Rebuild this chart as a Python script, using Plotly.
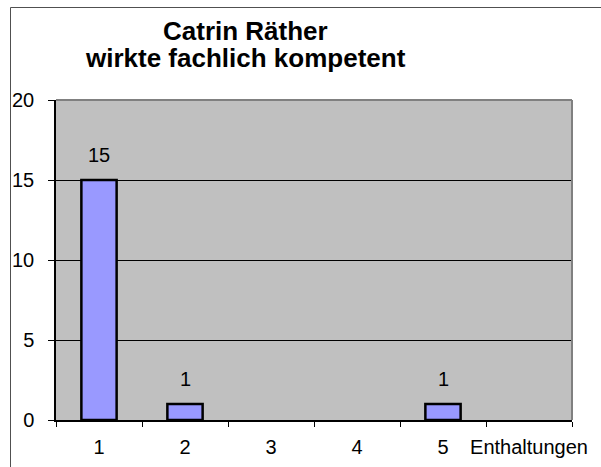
import plotly.graph_objects as go

# data
categories = ["1", "2", "3", "4", "5", "Enthaltungen"]
votes = [15, 1, 0, 0, 1, 0]
y_ticks = [0, 5, 10, 15, 20]
title_lines = ["Catrin Räther", "wirkte fachlich kompetent"]

BAR = "#9999FF"
PLOT_BG = "#C0C0C0"
FRAME = "#808080"
FONT = "Liberation Sans, Arial, sans-serif"

W, H = 601, 467
L, R, T, B = 56, 29, 100, 47
pw, ph = W - L - R, H - T - B


def px_x(x):
    return (x - L) / pw


def px_y(y):
    return (H - B - y) / ph


fig = go.Figure(go.Bar(
    x=categories,
    y=[v if v else None for v in votes],  # empty categories draw nothing
    width=0.41,
    marker=dict(color=BAR, line=dict(color="black", width=2.5)),
    hoverinfo="x+y",
))

# value labels above non-zero bars (category index as x)
for i, v in enumerate(votes):
    if v:
        fig.add_annotation(x=i, y=v, text=str(v), showarrow=False,
                           yanchor="middle", yshift=25,
                           font=dict(size=20, color="black"))

# two-line bold title, tight line spacing like the original
for text, cy in zip(title_lines, [31, 58]):
    fig.add_annotation(xref="paper", yref="paper", x=px_x(245), y=px_y(cy),
                       xanchor="center", yanchor="middle", showarrow=False,
                       text=f"<b>{text}</b>",
                       font=dict(size=26, family=FONT, color="black"))

# grey top/right frame of the plot area
fig.add_shape(type="line", xref="paper", yref="paper", x0=0, x1=1, y0=1, y1=1,
              line=dict(color=FRAME, width=2), layer="above")
fig.add_shape(type="line", xref="paper", yref="paper", x0=1, x1=1, y0=0, y1=1,
              line=dict(color=FRAME, width=2), layer="above")

# outer chart border (runs off the right/bottom edge)
fig.add_shape(type="rect", xref="paper", yref="paper",
              x0=px_x(10.5), x1=px_x(610), y0=px_y(475), y1=px_y(7.5),
              line=dict(color="#505050", width=1), layer="below")

fig.update_layout(
    width=W, height=H,
    paper_bgcolor="white",
    plot_bgcolor=PLOT_BG,
    font=dict(family=FONT, size=20, color="black"),
    margin=dict(l=L, r=R, t=T, b=B),
    showlegend=False,
    xaxis=dict(
        type="category", automargin=False, tickangle=0,
        showline=True, linecolor="black", linewidth=1.5,
        ticks="outside", tickson="boundaries", ticklen=5, tickcolor="black",
        ticklabelstandoff=8,
        showgrid=False, tickfont=dict(size=20),
    ),
    yaxis=dict(
        range=[0, 20], tickvals=y_ticks, automargin=False,
        showline=True, linecolor="black", linewidth=1.5,
        ticks="outside", ticklen=6, tickcolor="black",
        ticklabelstandoff=10,
        showgrid=True, gridcolor="black", gridwidth=1,
        zeroline=False, tickfont=dict(size=20),
    ),
)

fig.write_html("out.html", config={"displayModeBar": False},
               post_script="document.body.style.margin='0';")
